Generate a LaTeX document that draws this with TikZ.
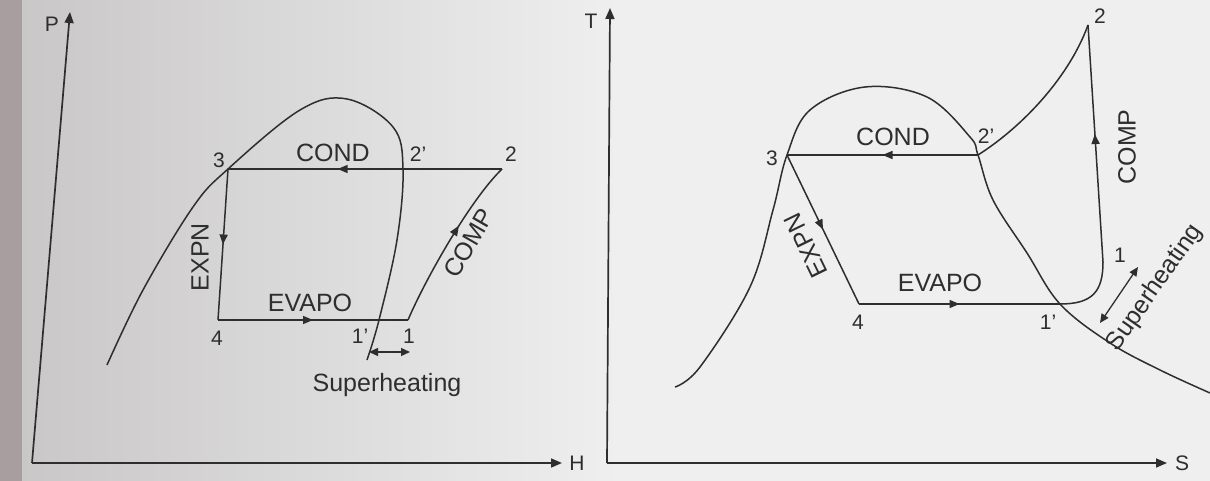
\documentclass[tikz,border=0pt]{standalone}
\usepackage{fontspec}
\setmainfont{Liberation Sans}
\usetikzlibrary{arrows.meta,decorations.markings}
\definecolor{ink}   {HTML}{2E2E2E}
\definecolor{paper} {HTML}{EFEFEF}
\definecolor{shadow}{HTML}{C9C7C8}
\definecolor{edge}  {HTML}{A89D9F}
\tikzset{
  curve/.style={draw=ink,line width=1.5pt},
  midarrow/.style={postaction={decorate,decoration={markings,
      mark=at position #1 with {\arrow{Triangle[length=10pt,width=8pt]}}}}},
  axis/.style={draw=ink,line width=1.7pt,-{Triangle[length=11pt,width=9pt]}},
  shbar/.style={draw=ink,line width=1.3pt,
      {Triangle[length=9pt,width=8pt]}-{Triangle[length=9pt,width=8pt]}},
  ptlabel/.style={text=ink,font=\fontsize{21}{25}\selectfont,inner sep=1pt},
  proclabel/.style={text=ink,font=\fontsize{25}{29}\selectfont,inner sep=1pt}
}

\begin{document}
\begin{tikzpicture}[x=1pt,y=-1pt]
  \useasboundingbox (0,0) rectangle (1210,481);
  \fill[paper] (0,0) rectangle (1210,481);
  \shade[left color=shadow,right color=paper] (20,0) rectangle (620,481);
  \fill[edge] (0,0) rectangle (22,481);

  % p-h chart
  \coordinate (oL) at (32,463);
  \coordinate (pTop) at (70,12);
  \coordinate (hEnd) at (562,463);
  \draw[axis] (oL) -- (pTop);
  \draw[axis] (oL) -- (hEnd);
  \node[ptlabel] (lblP) at (52,24) {P};
  \node[ptlabel] (lblH) at (577,463) {H};

  \draw[curve] plot[smooth,tension=0.6] coordinates {(107,365) (143,290)
    (193,207) (228,169) (300,110) (347,99) (393,127) (403,169) (397,240)
    (379,320) (367,360)};

  \coordinate (a3) at (228,169);
  \coordinate (a2) at (502,169);
  \coordinate (a4) at (218,320);
  \coordinate (a1) at (408,320);
  \draw[curve,midarrow=0.6] (a2) -- (a3);
  \draw[curve,midarrow=0.5] (a3) -- (a4);
  \draw[curve,midarrow=0.5] (a4) -- (a1);
  \draw[curve,midarrow=0.6] (a1) .. controls (425,280) and (470,200) .. (a2);

  \coordinate (sa) at (369,352);
  \coordinate (sb) at (410,352);
  \draw[shbar] (sa) -- (sb);

  \node[proclabel] (lCond) at (333,153) {COND};
  \node[proclabel] (lEvapo) at (310,303) {EVAPO};
  \node[proclabel,rotate=90] (lExpn) at (200,257) {EXPN};
  \node[proclabel,rotate=60] (lComp) at (469,243) {COMP};
  \node[proclabel] (lSuper) at (387,385) {Superheating};

  % T-s chart
  \coordinate (oR) at (607,463);
  \coordinate (tTop) at (610,8);
  \coordinate (sEnd) at (1167,463);
  \draw[axis] (oR) -- (tTop);
  \draw[axis] (oR) -- (sEnd);
  \node[ptlabel] (lblT) at (591,21) {T};
  \node[ptlabel] (lblS) at (1182,463) {S};

  \draw[curve] plot[smooth,tension=0.6] coordinates {(675,387) (700,367)
    (750,287) (773,210) (787,155) (810,110) (865,87) (927,97) (970,137)
    (978,155) (993,200) (1027,253) (1060,304) (1110,343) (1160,370)
    (1210,393)};

  \coordinate (b3) at (787,155);
  \coordinate (b2p) at (978,155);
  \coordinate (b4) at (859,304);
  \coordinate (b1p) at (1060,304);
  \coordinate (b1) at (1103,262);
  \coordinate (b2) at (1088,25);
  \draw[curve,midarrow=0.5] (b2p) -- (b3);
  \draw[curve,midarrow=0.5] (b3) -- (b4);
  \draw[curve,midarrow=0.5] (b4) -- (b1p);
  \draw[curve] (b1p) .. controls (1092,304) and (1103,292) .. (b1);
  \draw[curve,midarrow=0.54] (b1) -- (b2);
  \draw[curve] (b2p) .. controls (1025,125) and (1070,75) .. (b2);

  \coordinate (sc) at (1100,323);
  \coordinate (sd) at (1138,267);
  \draw[shbar] (sc) -- (sd);

  \node[proclabel] (rCond) at (893,137) {COND};
  \node[proclabel] (rEvapo) at (940,283) {EVAPO};
  \node[proclabel,rotate=116] (rExpn) at (806,246) {EXPN};
  \node[proclabel,rotate=90] (rComp) at (1127,147) {COMP};
  \node[proclabel,rotate=55] (rSuper) at (1155,288) {Superheating};

  % state points
  \foreach \nm/\x/\y/\t in {n3/219/160/3, n2p/418/154/2', n2/511/154/2,
      n4/217/338/4, n1p/360/336/1', n1/409/336/1,
      m3/772/158/3, m2p/986/136/2', m2/1100/16/2,
      m4/858/322/4, m1p/1048/322/1', m1/1120/255/1}{
    \node[ptlabel] (\nm) at (\x,\y) {\t};}
\end{tikzpicture}
\end{document}
